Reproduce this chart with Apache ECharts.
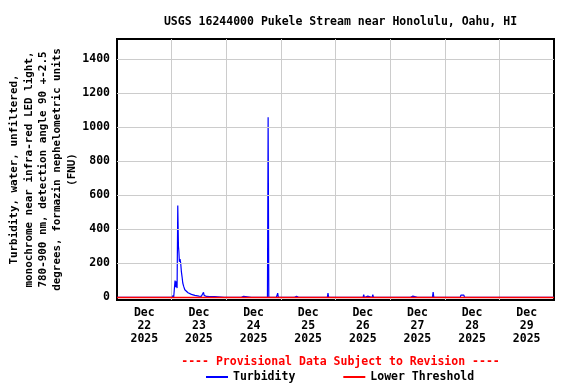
<!DOCTYPE html>
<html>
<head>
<meta charset="utf-8">
<script src="https://cdn.jsdelivr.net/npm/echarts@6/dist/echarts.min.js"></script>
<style>html,body{margin:0;padding:0;background:#fff}#c{width:576px;height:384px}</style>
</head>
<body>
<div id="c"></div>
<script>
// Hours since Dec 22 2025 00:00 and turbidity (FNU)
const times = [
  0, 0.3, 0.6,
  9.2, 9.5, 9.8,
  24.3, 24.6, 24.9,
  25.2, 25.5, 25.8, 26.1, 26.4, 26.7, 27.0, 27.2, 27.4, 27.7, 28.0, 28.3, 28.6, 28.9,
  29.3, 29.8, 30.5, 31.2, 32.0, 32.7, 33.4, 34.2, 34.9, 36.0, 37.0, 37.7, 38.0, 38.3,
  39.3, 40.7, 41.5, 42.9, 43.5,
  47.2, 47.5, 47.8,
  54.4, 54.7, 55.0, 55.3, 55.6, 55.9,
  59.0, 59.3, 59.6,
  66.1, 66.4, 66.7,
  70.0, 70.3, 70.6, 70.9,
  77.8, 78.1, 78.4, 78.9, 79.2, 80.0, 80.3, 80.6, 81.3, 81.6, 81.9,
  92.4, 92.7, 93.0,
  98.9, 99.2, 99.5, 102.0, 102.3, 102.6, 103.3, 103.6, 103.9,
  108.1, 108.4, 108.7, 109.3, 110.2, 110.5,
  112.1, 112.4, 112.7,
  115.9, 116.2, 116.5, 118.1, 118.4, 118.7,
  128.8, 129.1, 129.4, 130.0, 130.3, 132.0, 132.3, 132.6, 133.2, 133.5, 133.8, 135.9, 136.2, 136.5,
  138.6, 138.9, 139.2,
  150.8, 151.1, 151.8, 152.4, 152.7,
  192
];
const turbidity = [
  0, 5, 0,
  0, 6, 0,
  0, 12, 0,
  0, 100, 60, 95, 55, 541, 300, 267, 210, 225, 200, 150, 120, 85,
  65, 45, 35, 28, 22, 18, 14, 12, 10, 8, 6, 5, 30, 12,
  6, 5, 4, 5, 0,
  0, 5, 0,
  0, 6, 0, 0, 6, 0,
  0, 6, 0,
  0, 1060, 0,
  0, 8, 25, 0,
  0, 6, 0, 6, 0, 0, 6, 0, 0, 5, 0,
  0, 25, 0,
  0, 5, 0, 0, 6, 0, 0, 6, 0,
  0, 16, 0, 10, 8, 0,
  0, 16, 0,
  0, 7, 0, 0, 7, 0,
  0, 8, 0, 8, 0, 0, 7, 0, 0, 7, 0, 0, 7, 0,
  0, 31, 0,
  0, 14, 8, 14, 0,
  0
];
const lowerThreshold = 0;
const dayLabels = ['Dec\n22\n2025','Dec\n23\n2025','Dec\n24\n2025','Dec\n25\n2025','Dec\n26\n2025','Dec\n27\n2025','Dec\n28\n2025','Dec\n29\n2025'];
const yTicks = [0, 200, 400, 600, 800, 1000, 1200, 1400];

const FONT = 'DejaVu Sans Mono';
const chart = echarts.init(document.getElementById('c'), null, {renderer: 'canvas'});
const turbData = times.map((t, i) => [t, turbidity[i]]);
chart.setOption({
  animation: false,
  backgroundColor: '#fff',
  title: [
    {text: 'USGS 16244000 Pukele Stream near Honolulu, Oahu, HI', left: 335.5, top: 11, textAlign: 'center',
     textStyle: {fontFamily: FONT, fontWeight: 'bold', fontSize: 11.5, color: '#000'}},
    {text: '---- Provisional Data Subject to Revision ----', left: 335.5, top: 351, textAlign: 'center',
     textStyle: {fontFamily: FONT, fontWeight: 'bold', fontSize: 11.5, color: '#ff0000'}}
  ],
  legend: {
    left: 201, top: 366, itemWidth: 22, itemHeight: 2, itemGap: 48, icon: 'rect',
    textStyle: {fontFamily: FONT, fontWeight: 'bold', fontSize: 11.5, color: '#000'},
    data: ['Turbidity', 'Lower Threshold']
  },
  grid: {left: 117, top: 39, right: 22, bottom: 84, outerBoundsMode: 'none', containLabel: false,
         show: true, borderColor: '#000', borderWidth: 2, backgroundColor: 'transparent'},
  xAxis: [
    {type: 'value', min: 0, max: 192, interval: 24,
     axisLine: {show: false}, axisTick: {show: false}, axisLabel: {show: false},
     splitLine: {show: true, showMinLine: false, showMaxLine: false, lineStyle: {color: '#cccccc', width: 1}}},
    {type: 'category', data: dayLabels, position: 'bottom', boundaryGap: true,
     axisLine: {show: false}, axisTick: {show: false}, splitLine: {show: false},
     axisLabel: {interval: 0, margin: 7, lineHeight: 13, fontFamily: FONT, fontWeight: 'bold', fontSize: 11.5, color: '#000'}}
  ],
  yAxis: {
    type: 'value', min: -15, max: 1520,
    axisLine: {show: false},
    axisTick: {show: false, customValues: yTicks},
    axisLabel: {customValues: yTicks, margin: 7, formatter: v => String(v),
                fontFamily: FONT, fontWeight: 'bold', fontSize: 11.5, color: '#000'},
    splitLine: {show: false},
    name: 'Turbidity, water, unfiltered,\nmonochrome near infra-red LED light,\n780-900 nm, detection angle 90 +-2.5\ndegrees, formazin nephelometric units\n(FNU)',
    nameLocation: 'middle', nameRotate: 90, nameGap: 38, nameMoveOverlap: false,
    nameTextStyle: {fontFamily: FONT, fontWeight: 'bold', fontSize: 10.9, color: '#000', lineHeight: 14.3, align: 'center'}
  },
  series: [
    {name: 'grid', type: 'line', xAxisIndex: 0, data: [], silent: true, z: 0,
     markLine: {silent: true, symbol: 'none', label: {show: false}, animation: false,
       lineStyle: {color: '#cccccc', width: 1, type: 'solid'},
       data: yTicks.slice(1).map(v => ({yAxis: v}))}},
    {name: 'Turbidity', type: 'line', xAxisIndex: 0, data: turbData, showSymbol: false, symbol: 'none',
     lineStyle: {color: '#0000ff', width: 1.2}, itemStyle: {color: '#0000ff'}, z: 2},
    {name: 'Lower Threshold', type: 'line', xAxisIndex: 0, data: [[0, lowerThreshold], [192, lowerThreshold]],
     showSymbol: false, symbol: 'none', lineStyle: {color: '#ff0000', width: 1.5}, itemStyle: {color: '#ff0000'}, z: 3}
  ]
});
</script>
</body>
</html>
